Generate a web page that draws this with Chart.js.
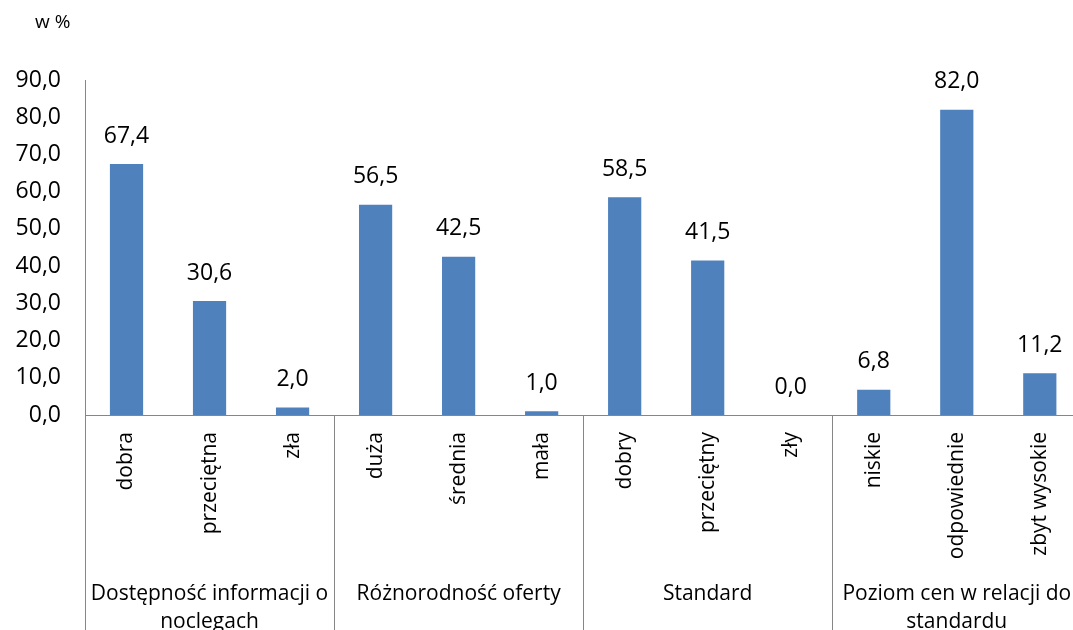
<!DOCTYPE html>
<html lang="pl">
<head>
<meta charset="utf-8">
<title>Ocena bazy noclegowej</title>
<script src="https://cdn.jsdelivr.net/npm/chart.js@4/dist/chart.umd.min.js"></script>
<style>
  html, body { margin: 0; padding: 0; background: #fff; overflow: hidden; }
  #wrap { position: absolute; left: 0; top: 0; width: 1082px; height: 630px; }
</style>
</head>
<body>
<div id="wrap"><canvas id="chart" width="1082" height="630"></canvas></div>
<script>
// categories, one per bar
var categories = ["dobra", "przeciętna", "zła", "duża", "średnia", "mała",
                  "dobry", "przeciętny", "zły", "niskie", "odpowiednie", "zbyt wysokie"];
// shares in %
var values = [67.4, 30.6, 2.0, 56.5, 42.5, 1.0, 58.5, 41.5, 0.0, 6.8, 82.0, 11.2];
// second-level grouping of the categories
var groupLabels = [
  ["Dostępność informacji o", "noclegach"],
  ["Różnorodność oferty"],
  ["Standard"],
  ["Poziom cen w relacji do", "standardu"]
];
var groupSizes = [3, 3, 3, 3];
var yTicks = [0, 10, 20, 30, 40, 50, 60, 70, 80, 90];

var FONT = "'Open Sans', 'Noto Sans', sans-serif";
var BAR = "#4F81BD";
var AXIS = "#868686";

function fmt(v) { return v.toFixed(1).replace(".", ","); }

// numbers over the bars, the unit note, group separators and group names
var extras = {
  id: "extras",
  afterDatasetsDraw: function (chart) {
    var ctx = chart.ctx;
    var meta = chart.getDatasetMeta(0);
    ctx.save();
    ctx.fillStyle = "#000";
    ctx.font = "23px " + FONT;
    ctx.textAlign = "center";
    ctx.textBaseline = "middle";
    meta.data.forEach(function (bar, i) {
      ctx.fillText(fmt(values[i]), bar.x, bar.y - 28);
    });
    ctx.restore();
  },
  afterDraw: function (chart) {
    var ctx = chart.ctx, area = chart.chartArea, x = chart.scales.x;
    var half = (x.getPixelForValue(1) - x.getPixelForValue(0)) / 2;
    ctx.save();
    ctx.fillStyle = "#000";
    ctx.font = "19px " + FONT;
    ctx.textAlign = "left";
    ctx.textBaseline = "middle";
    ctx.fillText("w %", 35, 23);

    ctx.strokeStyle = AXIS;
    ctx.lineWidth = 1;
    var start = 0;
    groupSizes.forEach(function (n, g) {
      var left = x.getPixelForValue(start) - half;
      var right = x.getPixelForValue(start + n - 1) + half;
      ctx.beginPath();
      ctx.moveTo(Math.round(left) + 0.5, area.bottom);
      ctx.lineTo(Math.round(left) + 0.5, chart.height);
      ctx.stroke();
      ctx.font = "21px " + FONT;
      ctx.textAlign = "center";
      groupLabels[g].forEach(function (line, k) {
        ctx.fillText(line, (left + right) / 2, 594 + k * 28);
      });
      start += n;
    });
    ctx.restore();
  }
};

new Chart(document.getElementById("chart").getContext("2d"), {
  type: "bar",
  data: {
    labels: categories,
    datasets: [{
      data: values,
      backgroundColor: BAR,
      borderWidth: 0,
      barPercentage: 0.4,
      categoryPercentage: 1
    }]
  },
  options: {
    responsive: false,
    animation: false,
    layout: { padding: { top: 80, left: 0, right: 0, bottom: 0 } },
    plugins: { legend: { display: false }, tooltip: { enabled: false } },
    scales: {
      x: {
        grid: { display: false, drawTicks: false },
        border: { display: true, color: AXIS, width: 1 },
        ticks: {
          autoSkip: false, minRotation: 90, maxRotation: 90,
          padding: 17, color: "#000", font: { family: FONT, size: 21 }
        },
        afterFit: function (s) { s.height = 215; }
      },
      y: {
        min: 0, max: 90,
        grid: { display: false, drawTicks: false },
        border: { display: true, color: AXIS, width: 1 },
        afterBuildTicks: function (s) { s.ticks = yTicks.map(function (v) { return { value: v }; }); },
        ticks: {
          padding: 24, color: "#000", font: { family: FONT, size: 23 },
          callback: function (v) { return fmt(v); }
        },
        afterFit: function (s) { s.width = 85; }
      }
    }
  },
  plugins: [extras]
});
</script>
</body>
</html>
